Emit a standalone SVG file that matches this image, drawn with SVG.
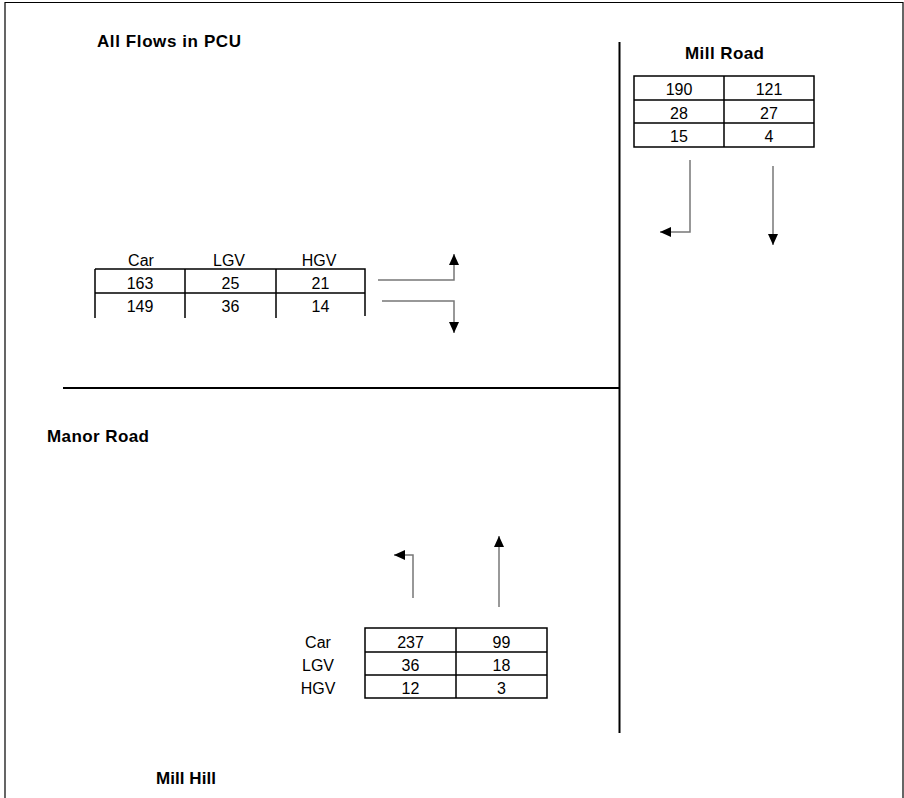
<svg xmlns="http://www.w3.org/2000/svg" width="904" height="798" viewBox="0 0 904 798">
<defs>
<marker id="ah" markerUnits="userSpaceOnUse" markerWidth="11" markerHeight="10" refX="11" refY="5" orient="auto">
<path d="M0,0 L11,5 L0,10 z" fill="#000"/>
</marker>
<style>
.t{font-family:"Liberation Sans",Arial,sans-serif;font-size:16px;fill:#000;text-anchor:middle}
.b{font-family:"Liberation Sans",Arial,sans-serif;font-size:17px;font-weight:bold;fill:#000}
.g{stroke:#000;stroke-width:1.5;fill:none}
.road{stroke:#000;stroke-width:2;fill:none}
.c{stroke:#777;stroke-width:1.5;fill:none;marker-end:url(#ah)}
</style>
</defs>
<rect width="904" height="798" fill="#fff"/>
<g id="frame">
<path d="M5,798 V2.5 H903 V798" stroke="#000" stroke-width="1.2" fill="none"/>
</g>
<g id="roads">
<line class="road" x1="619.5" y1="42" x2="619.5" y2="733"/>
<line class="road" x1="63" y1="388" x2="619" y2="388"/>
</g>
<g id="labels">
<text class="b" x="97" y="47" textLength="144" lengthAdjust="spacing">All Flows in PCU</text>
<text class="b" x="685" y="58.5" textLength="79" lengthAdjust="spacing">Mill Road</text>
<text class="b" x="47" y="442" textLength="102" lengthAdjust="spacing">Manor Road</text>
<text class="b" x="156" y="784" textLength="60" lengthAdjust="spacing">Mill Hill</text>
</g>
<g id="table-mill-road">
<path class="g" d="M634,76 H814 V147 H634 Z M634,100 H814 M634,123 H814 M724,76 V147"/>
<text class="t" x="679" y="95">190</text>
<text class="t" x="769" y="95">121</text>
<text class="t" x="679" y="119">28</text>
<text class="t" x="769" y="119">27</text>
<text class="t" x="679" y="142">15</text>
<text class="t" x="769" y="142">4</text>
</g>
<g id="table-manor-road">
<text class="t" x="141" y="266">Car</text>
<text class="t" x="229" y="266">LGV</text>
<text class="t" x="319" y="266">HGV</text>
<path class="g" d="M95,269 H365 V316 M95,293 H365 M95,269 V318 M185,269 V318 M276,269 V318"/>
<text class="t" x="140" y="289">163</text>
<text class="t" x="230.5" y="289">25</text>
<text class="t" x="320.5" y="289">21</text>
<text class="t" x="140" y="312">149</text>
<text class="t" x="230.5" y="312">36</text>
<text class="t" x="320.5" y="312">14</text>
</g>
<g id="table-mill-hill">
<text class="t" x="318" y="648">Car</text>
<text class="t" x="318" y="671">LGV</text>
<text class="t" x="318" y="694">HGV</text>
<path class="g" d="M365,628 H547 V698 H365 Z M365,652 H547 M365,675 H547 M456,628 V698"/>
<text class="t" x="410.5" y="648">237</text>
<text class="t" x="501.5" y="648">99</text>
<text class="t" x="410.5" y="671">36</text>
<text class="t" x="501.5" y="671">18</text>
<text class="t" x="410.5" y="694">12</text>
<text class="t" x="501.5" y="694">3</text>
</g>
<g id="connectors">
<path class="c" d="M378,280 H454 V254"/>
<path class="c" d="M382,301 H454 V333"/>
<path class="c" d="M690,160 V232 H660"/>
<path class="c" d="M773,166 V245" stroke="#444"/>
<path class="c" d="M413,598 V555 H394"/>
<path class="c" d="M499,607 V536" stroke="#444"/>
</g>
</svg>
